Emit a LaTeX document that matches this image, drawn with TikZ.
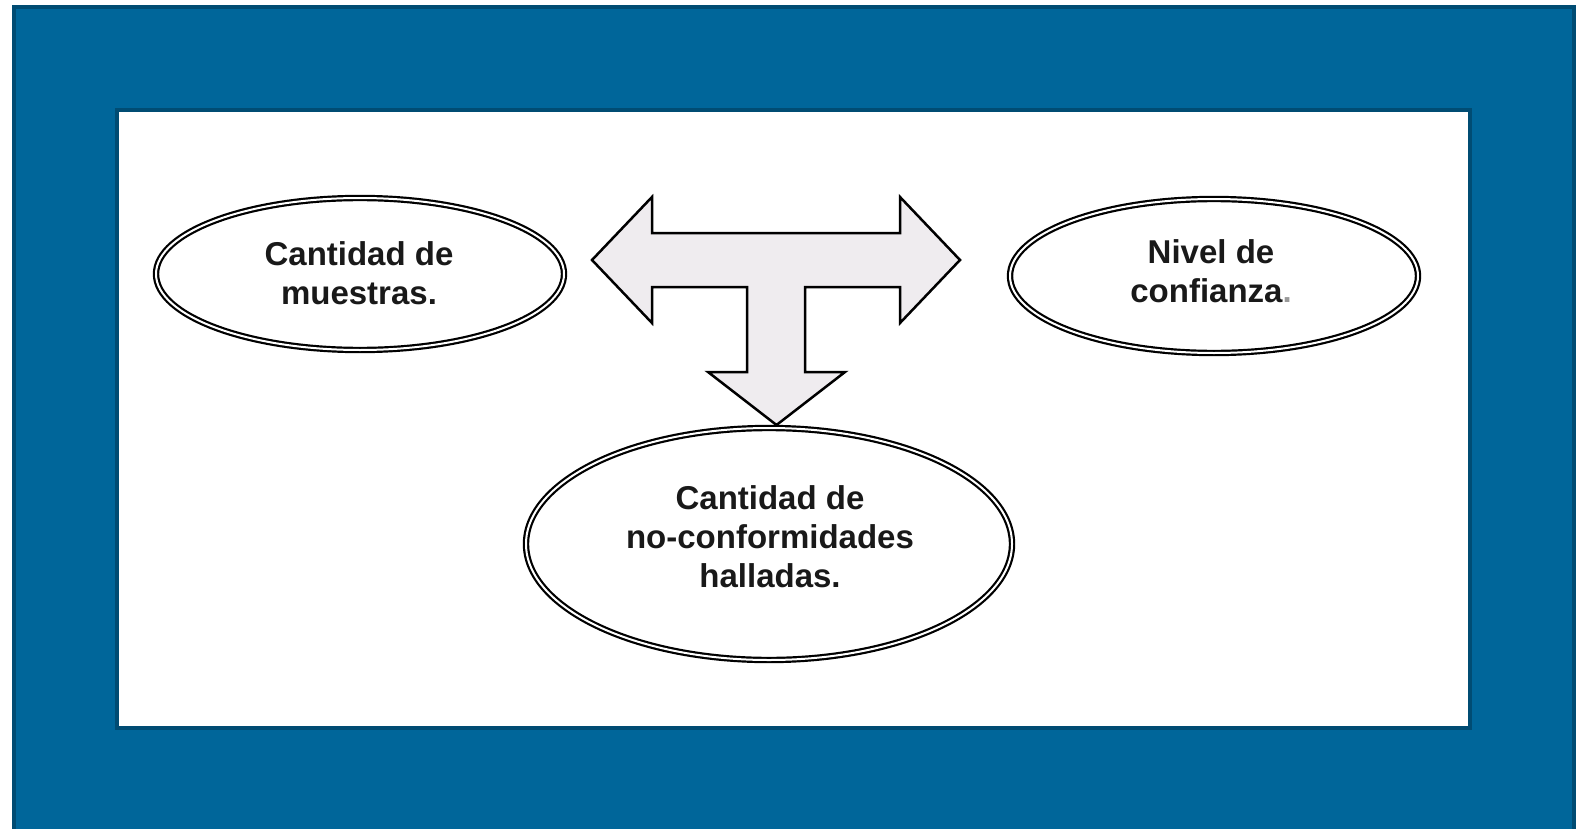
\documentclass[tikz,border=0pt]{standalone}
\usepackage{fontspec}
\setmainfont{Liberation Sans}
\usetikzlibrary{shapes.geometric}
\definecolor{frameblue}{HTML}{00669A}
\definecolor{framedark}{HTML}{004C73}
\definecolor{arrowfill}{HTML}{EFECEF}
\tikzset{
  oval/.style={ellipse, draw=black, double=white, double distance=2pt, line width=2.2pt, inner sep=0pt},
  ovaltext/.style={align=center, font=\fontsize{33}{39}\selectfont\bfseries, text=black!90},
  tarrow/.style={draw=black, fill=arrowfill, line width=2.5pt, line join=miter}
}
\begin{document}
\begin{tikzpicture}[x=1pt,y=-1pt]
\useasboundingbox (0,0) rectangle (1578,829);
% outer blue frame
\fill[white] (0,0) rectangle (1578,829);
\draw[framedark, fill=frameblue, line width=4pt] (14,7) rectangle (1574,840);
% inner white panel
\draw[framedark, fill=white, line width=4pt] (117,110) rectangle (1470,728);
% ellipses
\node[oval, minimum width=408pt, minimum height=152pt] (e1) at (360,274) {};
\node[oval, minimum width=408pt, minimum height=154pt] (e2) at (1214,276) {};
\node[oval, minimum width=486pt, minimum height=232pt] (e3) at (769,544) {};
% texts
\node[ovaltext] (t1) at (359,273) {Cantidad de\\muestras.};
\node[ovaltext] (t2) at (1211,271) {Nivel de\\confianza{\color{black!40}.}};
\node[ovaltext] (t3) at (770,537) {Cantidad de\\no-conformidades\\halladas.};
% T-shaped arrow
\coordinate (lt) at (592,260);
\coordinate (rt) at (960,260);
\coordinate (dt) at (776.5,425);
\draw[tarrow] (lt) -- (652,197) -- (652,233) -- (900,233) -- (900,197) -- (rt)
  -- (900,323) -- (900,287) -- (805,287) -- (805,372) -- (845,372) -- (dt)
  -- (708,372) -- (747,372) -- (747,287) -- (652,287) -- (652,323) -- cycle;
\end{tikzpicture}
\end{document}
